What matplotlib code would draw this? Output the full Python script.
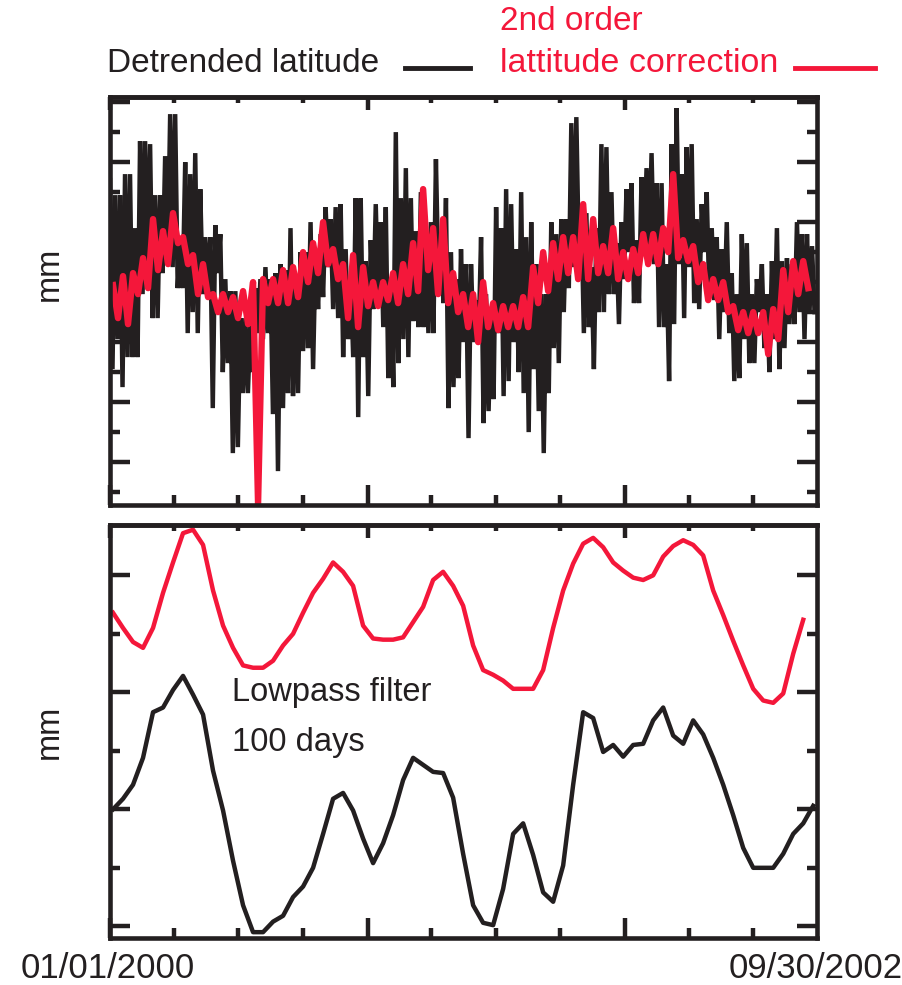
import numpy as np
import matplotlib.pyplot as plt
import matplotlib.dates as mdates
from matplotlib.lines import Line2D
from matplotlib.ticker import MultipleLocator

BLACK = "#231f20"
RED = "#f4173a"

START = np.datetime64("2000-01-01")
END = np.datetime64("2002-09-30")

# detrended latitude (mm), daily scatter read as high/low pairs (~7 days each)
lat_hi = [3.4, 2.9, 2.9, 3.6, 3.6, 1.8, 4.7, 4.7, 4.6, 2.9,
          2.9, 4.2, 5.6, 5.6, 1.4, 4.0, 3.6, 4.3, 3.1, 1.5,
          1.5, 1.9, 1.6, 0.1, -0.3, -0.3, -1.2, -1.2, -1.4, -0.2,
          0.1, 0.5, 0.1, 0.3, 0.6, 0.4, 1.8, 0.0, 1.0, 1.0,
          2.0, 1.0, 1.6, 2.5, 2.1, 2.5, 2.6, 1.1, 0.1, 2.8,
          2.8, 0.7, 1.4, 2.6, 2.0, 2.5, 0.0, 5.0, 2.8, 3.8,
          2.8, 1.7, 3.0, 1.2, 2.0, 4.1, 1.0, 2.8, 1.0, 0.1,
          1.1, 0.6, 0.6, -0.6, 1.5, -0.4, -1.0, 2.5,
          1.8, 3.1, 2.6, 1.1, 3.0, 1.5, 2.0, 0.6, -0.4, -0.4,
          2.0, 1.6, 2.1, 2.1, 5.3, 5.5, 2.3, 2.3, 0.5, 1.8,
          4.6, 4.5, 3.0, 1.3, 2.0, 3.1, 3.3, 1.4, 3.5, 3.8,
          4.3, 3.3, 3.3, 0.6, 4.6, 5.8, 3.6, 4.5, 4.6, 2.1,
          2.6, 3.0, 1.8, 1.5, 1.1, 2.0, 0.3, -0.4, 1.6, 1.3,
          -0.4, 0.1, 0.6, -0.4, 0.7, 1.8, 0.7, 0.8, 0.6, 2.0,
          1.6, 1.6, 1.2]
lat_lo = [-2.9, -1.9, -3.5, -2.5, -2.5, -2.5, -0.4, 0.1, -1.2, -1.2,
          0.3, 0.6, 0.5, -0.2, -0.2, -1.7, -1.0, -1.7, -0.4, -0.4,
          -4.2, 0.3, -3.0, -2.7, -5.7, -5.5, -3.7, -3.7, -3.0, -1.7,
          -1.9, -1.7, -4.4, -6.3, -4.2, -3.7, -3.8, -3.7, -2.3, -2.2,
          -2.9, -0.9, -0.5, 0.5, -0.9, -1.2, -2.5, -1.9, -2.5, -4.5,
          -2.5, -3.8, -0.9, -0.6, -1.5, -3.2, -3.5, -2.7, -1.9, -2.5,
          -1.3, -1.5, -1.5, -1.7, -1.7, 0.0, -0.7, -4.2, -3.5, -3.2,
          -2.0, -5.2, -2.0, -2.0, -4.7, -4.3, -3.9, -1.7,
          -3.8, -3.3, -2.0, -3.0, -3.7, -5.0, -2.9, -4.3, -5.7, -3.7,
          -2.2, -2.7, -1.0, -0.2, 0.5, 0.9, -1.7, -1.5, -2.9, -1.0,
          -1.0, -0.4, -0.4, -1.4, 0.1, 1.0, -0.7, -0.7, 1.0, 1.0,
          0.6, -1.5, -1.5, -3.3, -1.4, 0.6, -1.2, 0.5, -0.7, -0.9,
          1.0, -0.4, -0.6, -1.9, -1.0, -1.7, -3.3, -3.2, -1.9, -2.7,
          -2.7, -1.0, -2.2, -3.0, -1.9, -2.9, -2.2, -1.4, -1.4, -1.0,
          -1.9, -1.0, -1.0]

# 2nd order latitude correction (mm), high/low pairs (~14 days each)
corr_hi = [-0.1, 0.2, 0.3, 0.8, 2.1, 1.7, 2.3, 1.5, 0.9, 0.6,
           -0.4, -0.4, -0.5, -0.3, 0.0, 0.1, 0.1, 0.4, 0.5, 1.0,
           1.3, 2.0, 1.1, 0.6, 0.9, 0.5, 0.0, 0.0, 0.3, 0.6,
           1.3, 3.1, 1.8, 2.1, 0.3, -0.4, -0.4, 0.0, -0.7, -0.8,
           -0.8, -0.5, 0.5, 1.0, 1.3, 1.5, 1.5, 2.6, 2.1, 1.2,
           1.8, 1.0, 1.1, 1.6, 1.6, 1.8, 3.6, 1.4, 1.2, 0.6,
           0.1, 0.0, -0.8, -1.0, -1.0, -1.0, -0.9, 0.4, 0.7, 0.7]
corr_lo = [-1.2, -1.4, -0.4, -0.2, 0.4, 0.6, 1.3, 0.6, -0.4, -0.5,
           -1.0, -1.0, -1.2, -1.4, -7.4, -0.7, -0.7, -0.7, -0.5, 0.0,
           0.3, 0.6, 0.1, -1.2, -1.5, -0.8, -0.8, -0.6, -0.7, -0.4,
           -0.3, 0.4, -0.4, -0.7, -1.0, -1.5, -2.0, -1.5, -1.6, -1.5,
           -1.5, -1.5, -0.7, -0.3, 0.1, 0.3, 0.1, 0.1, 0.3, 0.3,
           0.1, 0.1, 0.3, 0.6, 0.6, 1.0, 0.8, 0.7, 0.0, -0.6,
           -0.6, -1.0, -1.6, -1.7, -1.7, -2.4, -1.9, -1.0, -0.4, -0.2]

# 100 day lowpass (mm), one value every ~14 days
lowpass_corr = [1.68, 1.55, 1.43, 1.38, 1.55, 1.85, 2.11, 2.36, 2.39, 2.26,
                1.87, 1.57, 1.38, 1.23, 1.21, 1.21, 1.27, 1.40, 1.50, 1.68,
                1.85, 1.97, 2.11, 2.03, 1.91, 1.57, 1.46, 1.45, 1.45, 1.47,
                1.60, 1.73, 1.96, 2.03, 1.91, 1.74, 1.40, 1.19, 1.15, 1.10,
                1.03, 1.03, 1.03, 1.19, 1.55, 1.87, 2.10, 2.27, 2.32, 2.24,
                2.11, 2.04, 1.98, 1.96, 2.00, 2.16, 2.25, 2.30, 2.26, 2.17,
                1.87, 1.66, 1.44, 1.23, 1.03, 0.93, 0.91, 0.99, 1.33, 1.62]
lowpass_lat = [0.00, 0.09, 0.21, 0.44, 0.83, 0.87, 1.02, 1.14, 0.98, 0.81,
               0.33, -0.01, -0.44, -0.82, -1.05, -1.05, -0.96, -0.91, -0.75, -0.66,
               -0.50, -0.21, 0.09, 0.14, -0.01, -0.25, -0.46, -0.29, -0.05, 0.25,
               0.44, 0.38, 0.32, 0.31, 0.10, -0.38, -0.82, -0.97, -0.99, -0.68,
               -0.21, -0.12, -0.39, -0.71, -0.79, -0.48, 0.21, 0.83, 0.78, 0.49,
               0.55, 0.45, 0.55, 0.56, 0.76, 0.87, 0.63, 0.56, 0.76, 0.64,
               0.44, 0.21, -0.05, -0.33, -0.50, -0.50, -0.50, -0.38, -0.21, -0.12, 0.03]


def zigzag(hi, lo, first_day, step):
    n = len(hi)
    days = np.empty(2 * n)
    days[0::2] = first_day + np.arange(n) * step
    days[1::2] = first_day + (np.arange(n) + 0.5) * step
    vals = np.empty(2 * n)
    vals[0::2] = hi
    vals[1::2] = lo
    return t0 + days, vals


def style_axes(ax, ymin, ymax, major, minor):
    ax.set_xlim(t0, t1)
    ax.set_ylim(ymin, ymax)
    ax.xaxis.set_major_locator(mdates.YearLocator())
    ax.xaxis.set_minor_locator(mdates.MonthLocator(bymonth=(1, 4, 7, 10)))
    ax.yaxis.set_major_locator(MultipleLocator(major))
    ax.yaxis.set_minor_locator(MultipleLocator(minor))
    ax.tick_params(which="both", direction="in", color=BLACK, width=3.2,
                   left=True, right=True, bottom=True, top=False,
                   labelleft=False, labelbottom=False)
    ax.tick_params(which="major", length=14.5)
    ax.tick_params(which="minor", length=7.2)
    for sp in ax.spines.values():
        sp.set_linewidth(3.3)
        sp.set_color(BLACK)
    sec = ax.secondary_xaxis("top")
    sec.xaxis.set_major_locator(mdates.YearLocator())
    sec.xaxis.set_minor_locator(mdates.MonthLocator(bymonth=(1, 4, 7, 10)))
    sec.tick_params(which="both", direction="in", color=BLACK, width=3.2,
                    labeltop=False)
    sec.tick_params(which="major", length=9.5)
    sec.tick_params(which="minor", length=4)
    sec.spines["top"].set_linewidth(3.3)
    sec.spines["top"].set_color(BLACK)


t0 = mdates.date2num(START)
t1 = mdates.date2num(END)
total = t1 - t0

plt.rcParams["font.family"] = ["Liberation Sans", "DejaVu Sans"]

fig = plt.figure(figsize=(9.03, 9.85), dpi=100)
ax1 = fig.add_axes([0.1218, 0.4873, 0.783, 0.4142])
ax2 = fig.add_axes([0.1218, 0.0477, 0.783, 0.4193])

# top panel
x, y = zigzag(lat_hi, lat_lo, 0.0, total / len(lat_hi))
ax1.plot(x, y, color=BLACK, lw=3.2, solid_joinstyle="miter")
x, y = zigzag(corr_hi, corr_lo, 4.3, 14.19)
ax1.plot(x, y, color=RED, lw=4.6)
style_axes(ax1, -7.43, 6.17, 2, 1)

# bottom panel
lp_days = t0 + 4.3 + 14.19 * np.arange(len(lowpass_lat))
ax2.plot(t0 + 4.3 + 14.19 * np.arange(len(lowpass_corr)), lowpass_corr,
         color=RED, lw=3.2)
ax2.plot(lp_days, lowpass_lat, color=BLACK, lw=3.2)
style_axes(ax2, -1.10, 2.43, 1, 0.5)


def ftext(px, py, s, **kw):
    fig.text(px / 903, 1 - py / 985, s, **kw)


ftext(107, 64, "Detrended latitude", color=BLACK, fontsize=24, va="center")
ftext(500, 22, "2nd order", color=RED, fontsize=24, va="center")
ftext(500, 64, "lattitude correction", color=RED, fontsize=24.5, va="center")
fig.add_artist(Line2D([405 / 903, 470 / 903], [1 - 68 / 985] * 2,
                      color=BLACK, lw=3.5))
fig.add_artist(Line2D([795 / 903, 875 / 903], [1 - 68 / 985] * 2,
                      color=RED, lw=3.5))

ftext(49, 274, "mm", color=BLACK, fontsize=23.5, rotation=90,
      ha="center", va="center")
ftext(49, 732, "mm", color=BLACK, fontsize=23.5, rotation=90,
      ha="center", va="center")

ftext(232, 693, "Lowpass filter", color=BLACK, fontsize=23.5, va="center")
ftext(232, 742, "100 days", color=BLACK, fontsize=23.5, va="center")

ftext(108, 968, "01/01/2000", color=BLACK, fontsize=25, ha="center", va="center")
ftext(816, 968, "09/30/2002", color=BLACK, fontsize=25, ha="center", va="center")

fig.savefig("out.png", dpi=100)
